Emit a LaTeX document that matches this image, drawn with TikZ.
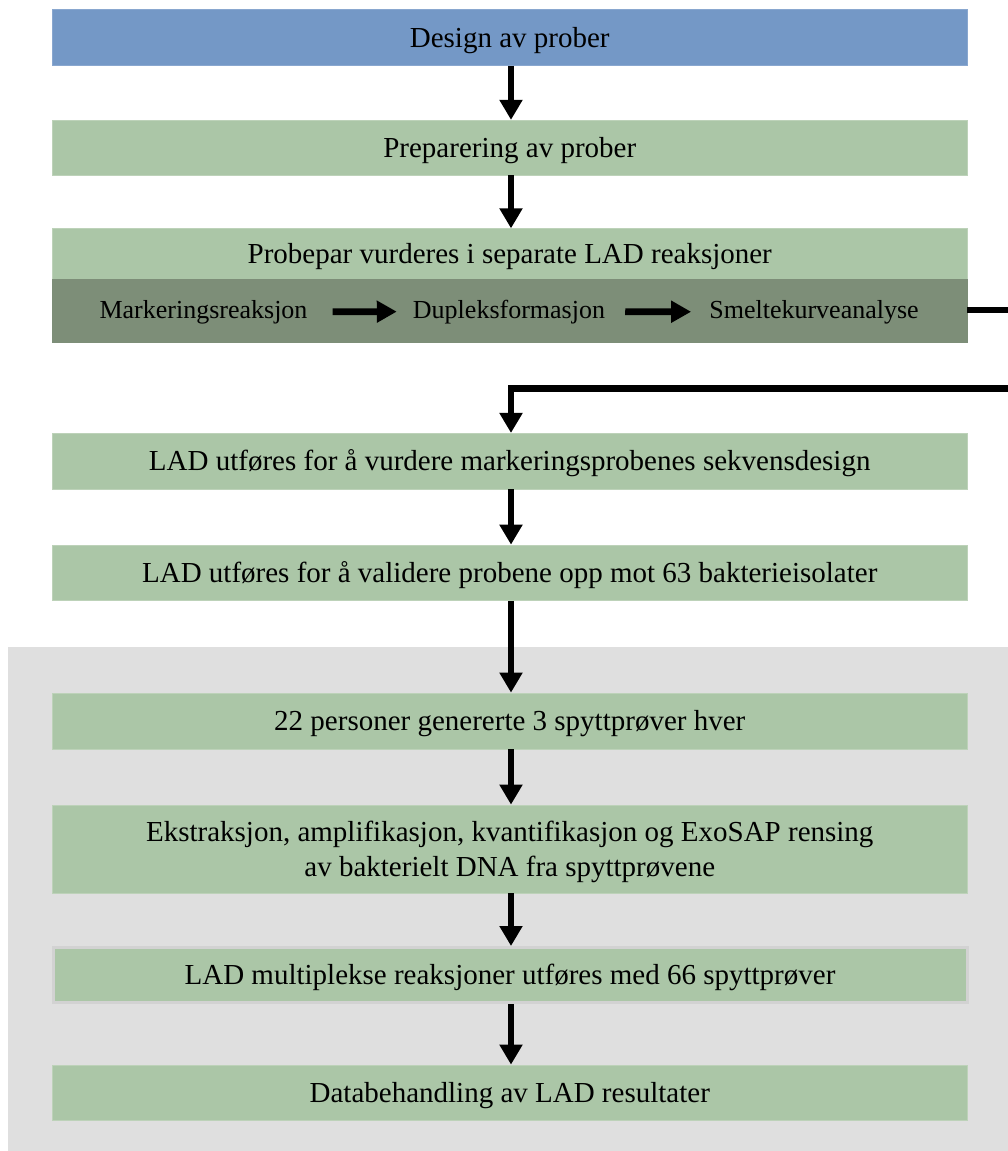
\documentclass[tikz,border=0pt]{standalone}
\usepackage{fontspec}
\setmainfont{Liberation Serif}
\usetikzlibrary{arrows.meta}
\definecolor{bluebox}{HTML}{7498C6}
\definecolor{greenbox}{HTML}{ABC6A7}
\definecolor{darkband}{HTML}{7D8E78}
\definecolor{graybg}{HTML}{DFDFDF}
\definecolor{greenedge}{HTML}{BDD2B9}
\definecolor{multiedge}{HTML}{D2D2D2}
\tikzset{
  box/.style={minimum width=914.5pt, inner sep=0pt, align=center,
    fill=greenbox, draw=greenedge, line width=0.8pt,
    font=\fontsize{29}{35}\selectfont},
  oneline/.style={text height=20pt, text depth=0.8pt},
  bandtext/.style={inner sep=0pt, anchor=base, font=\fontsize{26}{30}\selectfont},
  flow/.style={line width=6.5pt, -{Triangle[length=20pt,width=22pt]}},
  bandflow/.style={line width=6.7pt, -{Triangle[length=20pt,width=21pt]}},
  plainline/.style={line width=6pt},
}
\begin{document}
\begin{tikzpicture}[x=1pt,y=-1pt]
\useasboundingbox (0,0) rectangle (1008,1151);
\fill[graybg] (8,646.7) rectangle (1008,1151);
\coordinate (ax) at (511,0);

\node[box, oneline, fill=bluebox, draw=bluebox!85!white, minimum height=56pt] (b1) at (509.75,37.5) {Design av prober};
\node[box, oneline, minimum height=54.7pt] (b2) at (509.75,147.6) {Preparering av prober};
\node[box, oneline, minimum height=50.3pt] (b3) at (509.75,253.9) {Probepar vurderes i separate LAD reaksjoner};
\node[box, fill=darkband, draw=darkband, minimum height=63.3pt] (band) at (509.75,310.6) {};
\node[bandtext] (m) at (203.5,318) {Markeringsreaksjon};
\node[bandtext] (d) at (509,318) {Dupleksformasjon};
\node[bandtext] (s) at (814,318) {Smeltekurveanalyse};
\node[box, oneline, minimum height=55.7pt] (b4) at (509.75,461.2) {LAD utføres for å vurdere markeringsprobenes sekvensdesign};
\node[box, oneline, minimum height=55.5pt] (b5) at (509.75,572.8) {LAD utføres for å validere probene opp mot 63 bakterieisolater};
\node[box, oneline, minimum height=56pt] (b6) at (509.75,721) {22 personer genererte 3 spyttprøver hver};
\node[box, text depth=0pt, minimum height=88pt] (b7) at (509.75,849) {Ekstraksjon, amplifikasjon, kvantifikasjon og ExoSAP rensing\\av bakterielt DNA fra spyttprøvene};
\node[box, oneline, draw=multiedge, line width=3pt, minimum width=914pt, minimum height=55pt] (b8) at (510,975) {LAD multiplekse reaksjoner utføres med 66 spyttprøver};
\node[box, oneline, minimum height=55pt] (b9) at (509.75,1092.5) {Databehandling av LAD resultater};

\draw[flow] (b1.south -| ax) -- (b2.north -| ax);
\draw[flow] (b2.south -| ax) -- (b3.north -| ax);
\draw[bandflow, shorten <=25pt, shorten >=16pt] (m.east) -- (d.west);
\draw[bandflow, shorten <=20pt, shorten >=18pt] (d.east) -- (s.west);
\coordinate (r1) at (1008,310);
\coordinate (r2) at (1008,388.5);
\draw[plainline] (band.east |- r1) -- (r1);
\draw[flow] (r2) -- (r2 -| ax) -- (b4.north -| ax);
\draw[flow] (b4.south -| ax) -- (b5.north -| ax);
\draw[flow] (b5.south -| ax) -- (b6.north -| ax);
\draw[flow] (b6.south -| ax) -- (b7.north -| ax);
\draw[flow] (b7.south -| ax) -- (b8.north -| ax);
\draw[flow] (b8.south -| ax) -- (b9.north -| ax);
\end{tikzpicture}
\end{document}
